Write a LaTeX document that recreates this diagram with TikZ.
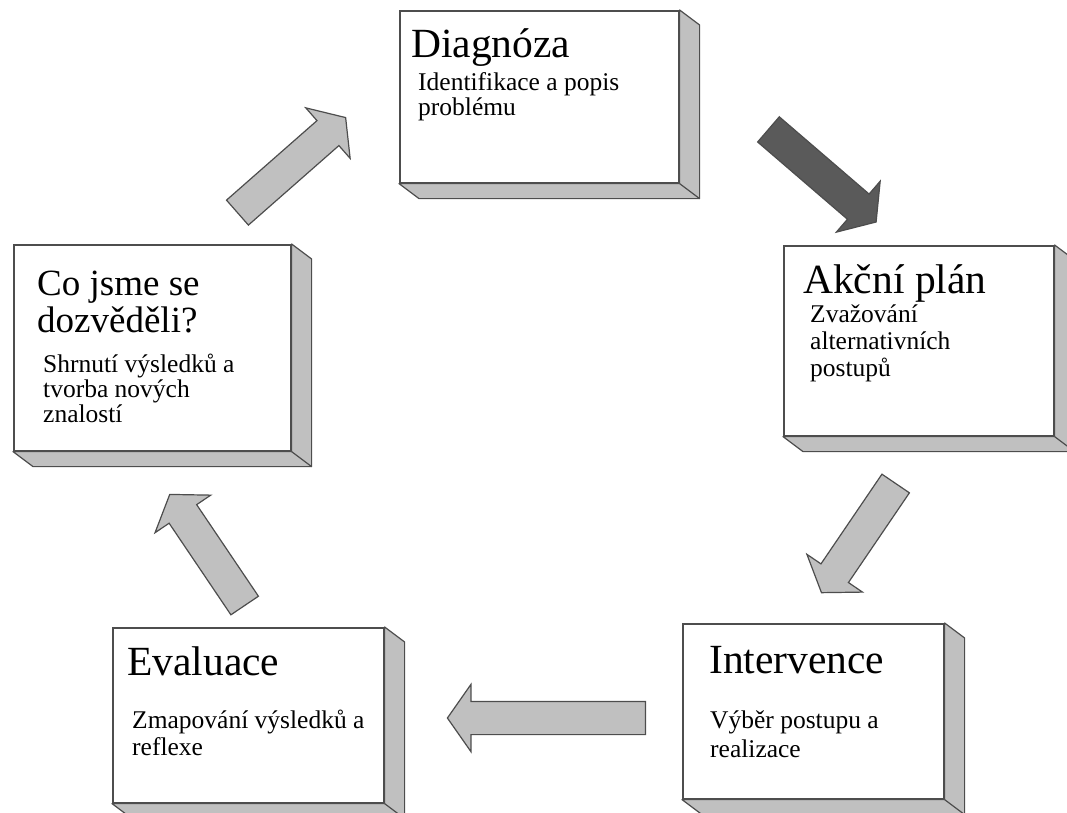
\documentclass[tikz,border=0pt]{standalone}
\usepackage{fontspec}
\setmainfont{Liberation Serif}
\usetikzlibrary{shapes.arrows,positioning,calc}
\definecolor{edge}{HTML}{4D4D4D}
\definecolor{shade}{HTML}{C0C0C0}
\definecolor{darkfill}{HTML}{5A5A5A}

\begin{document}
\begin{tikzpicture}[x=1pt, y=-1pt,
  face/.style={rectangle, draw=edge, line width=1.6pt, fill=white, anchor=north west, inner sep=0pt},
  side/.style={draw=edge, line width=1.2pt, fill=shade, line join=round},
  title/.style={anchor=base west, inner sep=0pt, font=\fontsize{41.5}{37}\selectfont, align=left},
  sub/.style={anchor=base west, inner sep=0pt, font=\fontsize{25.5}{25}\selectfont, align=left},
  blk/.style={single arrow, draw=edge, line width=1.2pt, fill=shade, anchor=tail, inner xsep=0pt, inner ysep=16pt, single arrow head extend=17pt, single arrow tip angle=110}
]
\useasboundingbox (0,0) rectangle (1067,812);

% boxes
\node[face, minimum width=279pt, minimum height=172pt] (diag) at (399,10) {};
\node[face, minimum width=270pt, minimum height=190pt] (plan) at (783,245) {};
\node[face, minimum width=261pt, minimum height=175pt] (interv) at (682,623) {};
\node[face, minimum width=271pt, minimum height=175pt] (eval) at (112,627) {};
\node[face, minimum width=277pt, minimum height=206pt] (learn) at (13,244) {};

% 3d edges
\foreach \b in {diag,plan,interv,eval,learn} {
  \draw[side] (\b.north east) -- ++(20,15) -- ([shift={(20,15)}]\b.south east) -- ([shift={(20,15)}]\b.south west) -- (\b.south west) -- (\b.south east) -- cycle;
  \draw[side] (\b.south east) -- ++(20,15);
}

% texts (base = last line)
\node[title] (diag-t) at ([shift={(12,47)}]diag.north west) {Diagnóza};
\node[sub] (diag-s) at ([shift={(19,105)}]diag.north west) {Identifikace a popis\\problému};
\node[title] (plan-t) at ([shift={(20,48)}]plan.north west) {Akční plán};
\node[sub, font=\fontsize{25.5}{27}\selectfont] (plan-s) at ([shift={(27,131)}]plan.north west) {Zvažování\\alternativních\\postupů};
\node[title] (interv-t) at ([shift={(27,50)}]interv.north west) {Intervence};
\node[sub, font=\fontsize{25.5}{29}\selectfont] (interv-s) at ([shift={(28,134)}]interv.north west) {Výběr postupu a\\realizace};
\node[title] (eval-t) at ([shift={(15,48)}]eval.north west) {Evaluace};
\node[sub, font=\fontsize{25.5}{27}\selectfont] (eval-s) at ([shift={(20,128)}]eval.north west) {Zmapování výsledků a\\reflexe};
\node[title, font=\fontsize{37}{37}\selectfont] (learn-t) at ([shift={(24,88)}]learn.north west) {Co jsme se\\dozvěděli?};
\node[sub] (learn-s) at ([shift={(30,178)}]learn.north west) {Shrnutí výsledků a\\tvorba nových\\znalostí};

% block arrows
\node[blk, rotate=41.3, minimum height=144pt] (arr1) at (237,213) {};
\node[blk, fill=darkfill, rotate=-40.7, minimum height=142pt] (arr2) at (768,129) {};
\node[blk, rotate=235.8, minimum height=132pt] (arr3) at (896,483) {};
\node[blk, rotate=180, minimum height=198pt] (arr4) at (646,718) {};
\node[blk, rotate=124, minimum height=134pt] (arr5) at (245,606) {};
\end{tikzpicture}
\end{document}
